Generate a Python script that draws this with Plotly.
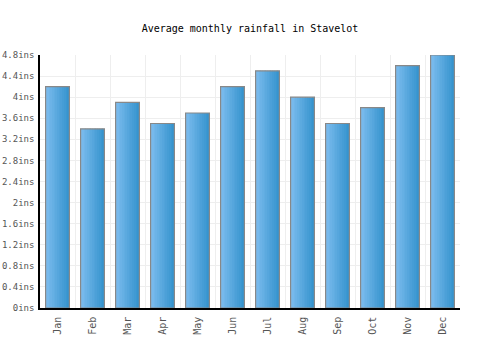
import plotly.graph_objects as go

months = ["Jan", "Feb", "Mar", "Apr", "May", "Jun", "Jul", "Aug", "Sep", "Oct", "Nov", "Dec"]
rainfall = [4.2, 3.4, 3.9, 3.5, 3.7, 4.2, 4.5, 4.0, 3.5, 3.8, 4.6, 4.8]
y_ticks = [0, 0.4, 0.8, 1.2, 1.6, 2, 2.4, 2.8, 3.2, 3.6, 4, 4.4, 4.8]
y_tick_text = ["0ins", "0.4ins", "0.8ins", "1.2ins", "1.6ins", "2ins", "2.4ins",
               "2.8ins", "3.2ins", "3.6ins", "4ins", "4.4ins", "4.8ins"]

bar_w = 0.68
n_strips = 14
c0 = (124, 188, 238)
c1 = (54, 148, 206)

fig = go.Figure()
sw = bar_w / n_strips
for i in range(n_strips):
    t = i / (n_strips - 1)
    col = tuple(round(c0[k] + (c1[k] - c0[k]) * t) for k in range(3))
    fig.add_trace(go.Bar(
        x=months, y=rainfall, width=sw * 1.05, offset=-bar_w / 2 + i * sw,
        marker=dict(color="rgb(%d,%d,%d)" % col, line=dict(width=0)),
        hoverinfo="skip", showlegend=False,
    ))
fig.add_trace(go.Bar(
    x=months, y=rainfall, width=bar_w, offset=-bar_w / 2,
    marker=dict(color="rgba(0,0,0,0)", line=dict(color="#888888", width=1.2)),
    showlegend=False,
))

fig.update_layout(
    width=500, height=350,
    barmode="overlay",
    margin=dict(l=40, r=40, t=55, b=42, autoexpand=False),
    paper_bgcolor="white", plot_bgcolor="white",
    font=dict(family="DejaVu Sans Mono", size=10, color="#555555"),
    title=dict(text="Average monthly rainfall in Stavelot", x=0.5, xanchor="center",
               y=1 - 28 / 350, yanchor="middle",
               font=dict(family="DejaVu Sans Mono", size=10, color="#000000")),
    xaxis=dict(
        type="category", range=[-0.5, 11.5], tickson="boundaries",
        showgrid=True, gridcolor="#eeeeee", gridwidth=1,
        showline=True, linecolor="#000000", linewidth=1.5,
        tickangle=-90, ticks="", fixedrange=True, automargin=False,
        ticklabelstandoff=3,
        tickfont=dict(family="DejaVu Sans Mono", size=10, color="#555555"),
    ),
    yaxis=dict(
        range=[0, 4.8], tickvals=y_ticks, ticktext=y_tick_text,
        showgrid=True, gridcolor="#eeeeee", gridwidth=1,
        showline=True, linecolor="#000000", linewidth=1.5,
        ticks="", zeroline=False, automargin=False,
        ticklabelstandoff=2,
        tickfont=dict(family="DejaVu Sans Mono", size=9, color="#555555"),
    ),
)

fig.write_html("out.html")
